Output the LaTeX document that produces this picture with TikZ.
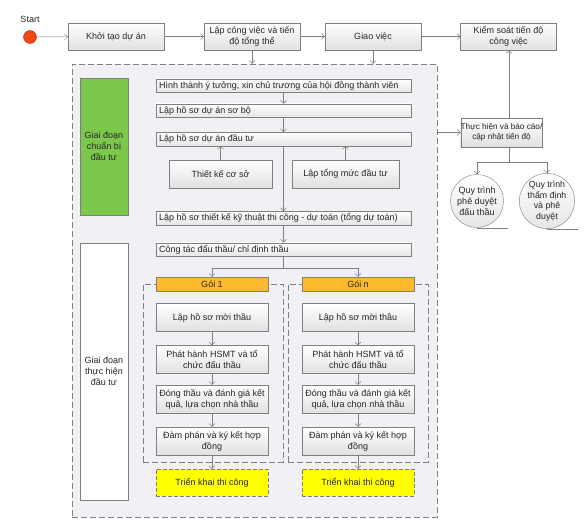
\documentclass[tikz,border=0pt]{standalone}
\usepackage{fontspec}
\setmainfont{Liberation Sans}
\definecolor{qlLine}{HTML}{7F7F7F}
\definecolor{qlText}{HTML}{262626}
\definecolor{qlPaper}{HTML}{F1F0F5}
\definecolor{qlGreen}{HTML}{7CC84C}
\definecolor{qlOrange}{HTML}{FDBA2C}
\definecolor{qlYellow}{HTML}{FFFF00}
\definecolor{qlStart}{HTML}{F04812}
\usetikzlibrary{
	arrows.meta,
	positioning,
	calc
}

\begin{document}
\begin{tikzpicture}[x=1pt, y=-1pt,
		font=\fontsize{9}{11}\selectfont, text=qlText,
		box/.style={rectangle, draw=qlLine, top color=white, bottom color=black!12, align=center, inner sep=1pt, minimum width=96pt, minimum height=27pt},
		wide/.style={rectangle, draw=qlLine, top color=white, bottom color=black!10, minimum width=255pt, minimum height=13.5pt, inner xsep=3pt, inner ysep=0pt,
			execute at begin node={\hbox to 249pt\bgroup}, execute at end node={\hfil\egroup}},
		pkg/.style={box, minimum width=112pt, minimum height=28pt, inner xsep=0pt},
		phase/.style={rectangle, draw=qlLine, align=center, minimum width=48pt},
		goi/.style={rectangle, draw=qlLine, fill=qlOrange, minimum width=112pt, minimum height=14pt, inner sep=0pt},
		goiframe/.style={rectangle, draw=qlLine, dash pattern=on 6pt off 3pt, minimum width=140pt, minimum height=178pt},
		trien/.style={rectangle, draw=qlLine, dash pattern=on 4pt off 2pt, fill=qlYellow, minimum width=112pt, minimum height=27pt},
		proc/.style={circle, draw=qlLine, top color=white, bottom color=black!10, minimum size=53pt, align=center, inner sep=0pt},
		arrow/.style={-{Straight Barb[length=3pt,width=6pt]}, draw=qlLine}
	]
		\useasboundingbox[fill=white] (0,0) rectangle (585,524);
		% khung giai doan
		\node[draw=qlLine, dash pattern=on 6pt off 3pt, fill=qlPaper, minimum width=365pt, minimum height=453pt] (giaidoan) at (254.5,290.5) {};
		\node[goiframe] (khung1) at (213,373) {};
		\node[goiframe] (khungn) at (358,373) {};
		% hang tren
		\node[circle, draw=qlStart!70!black, fill=qlStart, minimum size=13pt, inner sep=0pt] (start) at (30,37) {};
		\node[above=4pt of start] (nhan) {Start};
		\node[box] (khoitao) at (116,36.5) {Khởi tạo dự án};
		\node[box] (lapcv) at (252,36.5) {Lập công việc và tiến\\độ tổng thể};
		\node[box] (giaoviec) at (373,36.5) {Giao việc};
		\node[box] (kiemsoat) at (508.5,36.5) {Kiểm soát tiến độ\\công việc};
		% chuan bi dau tu
		\node[phase, fill=qlGreen, minimum height=137pt] (chuanbi) at (104,146.5) {Giai đoạn\\chuẩn bị\\đầu tư};
		\node[wide] (hinhthanh) at (283.5,85.5) {Hình thành ý tưởng, xin chủ trương của hội đồng thành viên};
		\node[wide] (sobo) at (283.5,110.5) {Lập hồ sơ dự án sơ bộ};
		\node[wide] (dautu) at (283.5,139) {Lập hồ sơ dự án đầu tư};
		\node[box, minimum width=103pt, minimum height=28pt] (thietkecs) at (220.5,174) {Thiết kế cơ sở};
		\node[box, minimum width=107pt, minimum height=28pt] (tongmuc) at (345.5,174) {Lập tổng mức đầu tư};
		\node[wide] (tkkt) at (283.5,218) {Lập hồ sơ thiết kế kỹ thuật thi công - dự toán (tổng dự toán)};
		% thuc hien dau tu
		\node[phase, fill=white, minimum height=257pt] (thuchiendt) at (104,371.5) {Giai đoạn\\thực hiện\\đầu tư};
		\node[wide] (congtac) at (283.5,249.5) {Công tác đấu thầu/ chỉ định thầu};
		\node[goi] (goi1) at (212,284) {Gói 1};
		\node[goi] (goin) at (358,284) {Gói n};
		\node[pkg] (moithau1) at (212,317.5) {Lập hồ sơ mời thầu};
		\node[pkg] (phathanh1) at (212,359.5) {Phát hành HSMT và tổ\\chức đấu thầu};
		\node[pkg] (dongthau1) at (212,399) {Đóng thầu và đánh giá kết\\quả, lựa chọn nhà thầu};
		\node[pkg] (damphan1) at (212,441) {Đàm phán và ký kết hợp\\đồng};
		\node[trien] (trienkhai1) at (212,482.5) {Triển khai thi công};
		\node[pkg] (moithaun) at (358,317.5) {Lập hồ sơ mời thầu};
		\node[pkg] (phathanhn) at (358,359.5) {Phát hành HSMT và tổ\\chức đấu thầu};
		\node[pkg] (dongthaun) at (358,399) {Đóng thầu và đánh giá kết\\quả, lựa chọn nhà thầu};
		\node[pkg] (damphann) at (358,441) {Đàm phán và ký kết hợp\\đồng};
		\node[trien] (trienkhain) at (358,482.5) {Triển khai thi công};
		% ben phai
		\node[box, minimum width=79pt, minimum height=29pt, inner xsep=0pt, font=\fontsize{8.2}{10.5}\selectfont] (thuchien) at (501.5,132.5) {Thực hiện và báo cáo/\\cập nhật tiến độ};
		\node[proc] (qtdauthau) at (477,201) {Quy trình\\phê duyệt\\đấu thầu};
		\node[proc, font=\fontsize{8.8}{10.5}\selectfont] (qtthamdinh) at (547,201) {Quy trình\\thẩm định\\và phê\\duyệt};
		\coordinate (chia) at (283.5,268);
		\coordinate (tach) at (509,162);
		% mui ten
		\draw[arrow] (start) -- (khoitao);
		\draw[arrow] (khoitao) -- (lapcv);
		\draw[arrow] (lapcv) -- (giaoviec);
		\draw[arrow] (giaoviec) -- (kiemsoat);
		\draw[arrow] (lapcv.south) -- (lapcv.south |- giaidoan.north);
		\draw[arrow] (giaoviec.south) -- (giaoviec.south |- giaidoan.north);
		\draw[arrow] (hinhthanh) -- (sobo);
		\draw[arrow] (sobo) -- (dautu);
		\draw[arrow] (dautu) -- (tkkt);
		\draw[arrow] (thietkecs) -- (thietkecs |- dautu.south);
		\draw[arrow] (tongmuc) -- (tongmuc |- dautu.south);
		\draw[arrow] (tkkt) -- (congtac);
		\draw[qlLine] (congtac) -- (chia);
		\draw[arrow] (chia) -| (goi1);
		\draw[arrow] (chia) -| (goin);
		\draw[arrow] (moithau1) -- (phathanh1);
		\draw[arrow] (phathanh1) -- (dongthau1);
		\draw[arrow] (dongthau1) -- (damphan1);
		\draw[arrow] (damphan1) -- (trienkhai1);
		\draw[arrow] (moithaun) -- (phathanhn);
		\draw[arrow] (phathanhn) -- (dongthaun);
		\draw[arrow] (dongthaun) -- (damphann);
		\draw[arrow] (damphann) -- (trienkhain);
		\draw[arrow] (giaidoan.east |- thuchien) -- (thuchien);
		\draw[arrow] (tach |- thuchien.north) -- (tach |- kiemsoat.south);
		\draw[qlLine] (tach |- thuchien.south) -- (tach);
		\draw[arrow] (tach) -| (qtdauthau);
		\draw[arrow] (tach) -| (qtthamdinh);
		\draw[qlLine] (qtdauthau.south) -- ++(31,0);
		\draw[qlLine] (qtthamdinh.south) -- ++(31,0);
	\end{tikzpicture}
\end{document}
